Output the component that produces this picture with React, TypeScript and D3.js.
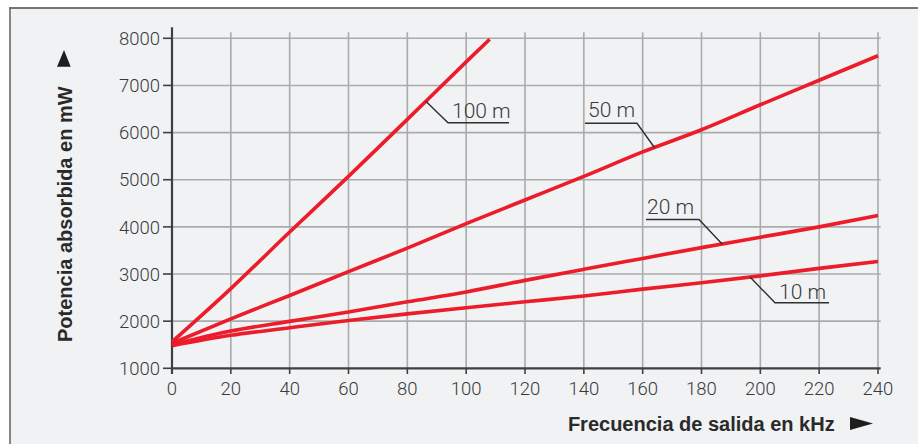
import React from "react";
import * as d3 from "d3";

const freq = [0, 20, 40, 60, 80, 100, 120, 140, 160, 180, 200, 220, 240];
const p10m = [1480, 1700, 1860, 2015, 2155, 2285, 2410, 2535, 2680, 2815, 2960, 3120, 3265];
const p20m = [1500, 1790, 1995, 2195, 2410, 2620, 2865, 3100, 3330, 3560, 3780, 4000, 4240];
const p50m = [1530, 2050, 2545, 3050, 3550, 4070, 4570, 5070, 5590, 6060, 6590, 7110, 7630];
const freq100m = [0, 20, 40, 60, 80, 100, 108];
const p100m = [1560, 2690, 3890, 5070, 6280, 7500, 7980];

const xTicks = [0, 20, 40, 60, 80, 100, 120, 140, 160, 180, 200, 220, 240];
const yTicks = [1000, 2000, 3000, 4000, 5000, 6000, 7000, 8000];

const seriesNames = ["10 m", "20 m", "50 m", "100 m"];

const RED = "#ec1c2a";
const GRID = "#a9abad";
const AXIS = "#3f3f3f";
const TEXT = "#3a3a3a";

export default function App() {
  const x = d3.scaleLinear().domain([0, 240]).range([172, 878]);
  const y = d3.scaleLinear().domain([1000, 8000]).range([368.3, 38.3]);

  const line = d3
    .line<[number, number]>()
    .x((d) => x(d[0]))
    .y((d) => y(d[1]))
    .curve(d3.curveMonotoneX);

  const series = [
    { name: seriesNames[0], pts: freq.map((f, i) => [f, p10m[i]] as [number, number]) },
    { name: seriesNames[1], pts: freq.map((f, i) => [f, p20m[i]] as [number, number]) },
    { name: seriesNames[2], pts: freq.map((f, i) => [f, p50m[i]] as [number, number]) },
    { name: seriesNames[3], pts: freq100m.map((f, i) => [f, p100m[i]] as [number, number]) },
  ];

  const interp = (pts: [number, number][], f: number) => {
    const xs = pts.map((p) => p[0]);
    const ys = pts.map((p) => p[1]);
    return d3.scaleLinear().domain(xs).range(ys)(f);
  };

  const annots = [
    { s: 3, f: 86.3, ux1: 448, ux2: 509, uy: 122.7, side: "left", tx: 452, ty: 118 },
    { s: 2, f: 164, ux1: 585, ux2: 637, uy: 123.3, side: "right", tx: 588, ty: 117 },
    { s: 1, f: 187, ux1: 646, ux2: 699, uy: 219.5, side: "right", tx: 647, ty: 214 },
    { s: 0, f: 196.5, ux1: 775, ux2: 829, uy: 302.7, side: "left", tx: 779, ty: 299 },
  ];

  const bodyFont = "Roboto, 'Liberation Sans', sans-serif";
  const boldFont = "'Liberation Sans', Arial, sans-serif";

  return (
    <svg
      width={918}
      height={444}
      style={{ position: "absolute", left: 0, top: 0, display: "block" }}
    >
      <rect x={0} y={0} width={918} height={444} fill="#ffffff" />
      <rect x={10} y={8} width={908} height={436} fill="#f1f2f4" />
      <line x1={9} y1={8} x2={918} y2={8} stroke="#4a4a4a" strokeWidth={1.6} />
      <line x1={10} y1={8} x2={10} y2={444} stroke="#6a6a6a" strokeWidth={1.6} />

      {/* horizontal grid */}
      {yTicks.map((t) => (
        <g key={"h" + t}>
          {t > 1000 && (
            <line x1={x(0)} x2={880.7} y1={y(t)} y2={y(t)} stroke={GRID} strokeWidth={1.6} />
          )}
          <line x1={163} x2={x(0)} y1={y(t)} y2={y(t)} stroke={AXIS} strokeWidth={1.6} />
          <text
            x={160}
            y={y(t)}
            dy="0.36em"
            textAnchor="end"
            fontFamily={bodyFont}
            fontWeight={300}
            fontSize={18.5}
            fill={TEXT}
          >
            {t}
          </text>
        </g>
      ))}

      {/* vertical grid */}
      {xTicks.map((t) => (
        <g key={"v" + t}>
          {t > 0 && (
            <line x1={x(t)} x2={x(t)} y1={32.3} y2={y(1000)} stroke={GRID} strokeWidth={1.6} />
          )}
          <line x1={x(t)} x2={x(t)} y1={y(1000)} y2={374} stroke={AXIS} strokeWidth={1.6} />
          <text
            x={x(t)}
            y={395}
            textAnchor="middle"
            fontFamily={bodyFont}
            fontWeight={300}
            fontSize={18.5}
            fill={TEXT}
          >
            {t}
          </text>
        </g>
      ))}

      {/* axes */}
      <line x1={x(0)} x2={x(0)} y1={27.3} y2={374} stroke={AXIS} strokeWidth={2.2} />
      <line x1={x(0) - 1} x2={880.7} y1={y(1000)} y2={y(1000)} stroke={AXIS} strokeWidth={2.2} />

      {/* series */}
      {series.map((s) => (
        <path
          key={s.name}
          d={line(s.pts) || ""}
          fill="none"
          stroke={RED}
          strokeWidth={3.6}
          strokeLinejoin="round"
        />
      ))}

      {/* annotations */}
      {annots.map((a) => {
        const s = series[a.s];
        const px = x(a.f);
        const py = y(interp(s.pts, a.f));
        const jx = a.side === "left" ? a.ux1 : a.ux2;
        return (
          <g key={"a" + a.s}>
            <polyline
              points={`${px},${py} ${jx},${a.uy} ${a.side === "left" ? a.ux2 : a.ux1},${a.uy}`}
              fill="none"
              stroke="#2f2f2f"
              strokeWidth={1.4}
            />
            <text
              x={a.tx}
              y={a.ty}
              fontFamily={bodyFont}
              fontWeight={300}
              fontSize={21}
              fill={TEXT}
            >
              {s.name}
            </text>
          </g>
        );
      })}

      {/* y title */}
      <text
        transform="translate(71.5,342) rotate(-90)"
        fontFamily={boldFont}
        fontWeight={700}
        fontSize={20}
        fill="#2a2a2a"
      >
        Potencia absorbida en mW
      </text>
      <path d="M64,50 L70.7,66.7 L57,66.7 Z" fill="#1e1e1e" />

      {/* x title */}
      <text
        x={834.7}
        y={430.5}
        textAnchor="end"
        fontFamily={boldFont}
        fontWeight={700}
        fontSize={20}
        fill="#2a2a2a"
      >
        Frecuencia de salida en kHz
      </text>
      <path d="M850,417 L873,423.5 L850,430 Z" fill="#1e1e1e" />
    </svg>
  );
}
